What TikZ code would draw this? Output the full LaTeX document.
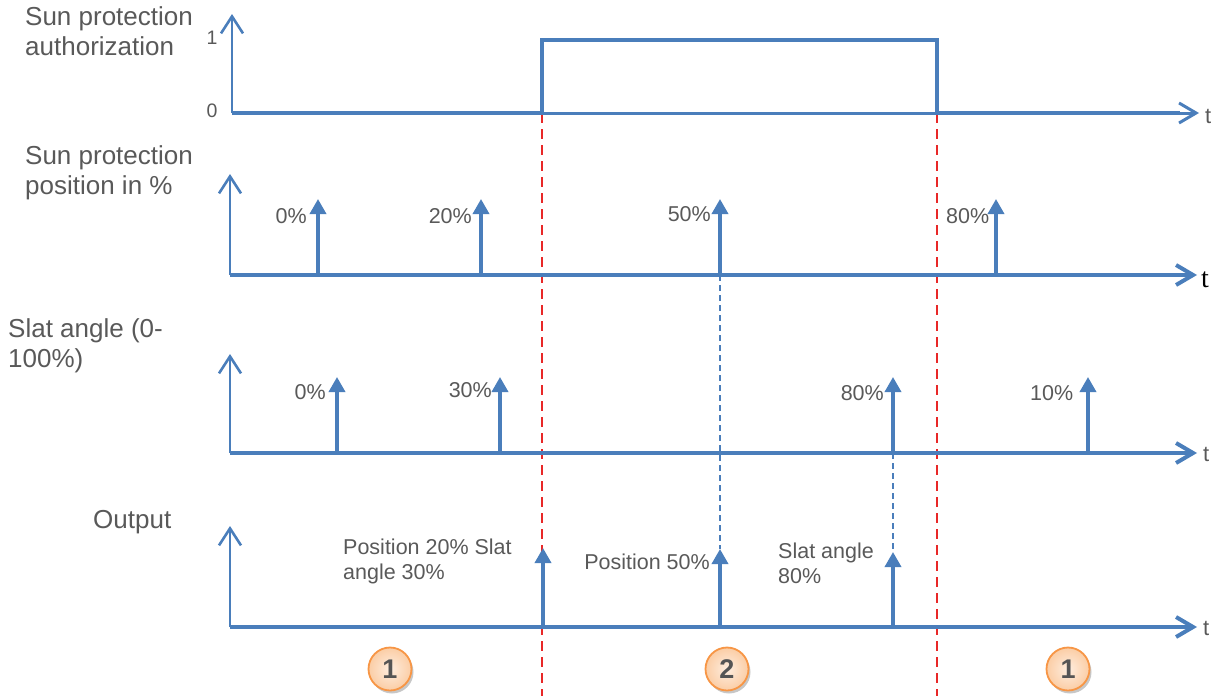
\documentclass[tikz,border=0pt]{standalone}
\usepackage{fontspec}
\setmainfont{Liberation Sans}
\newfontfamily\serifT{Liberation Serif}
\usetikzlibrary{arrows.meta,shadows}
\definecolor{blu}{RGB}{74,126,187}
\definecolor{txt}{RGB}{89,89,89}
\definecolor{redd}{RGB}{232,40,40}
\definecolor{orab}{RGB}{247,150,70}
\definecolor{oraf}{RGB}{251,205,165}
\definecolor{numc}{RGB}{85,85,85}
\begin{document}
\begin{tikzpicture}[x=1pt,y=-1pt,
  yax/.style={draw=blu,line width=2.6pt,-{Straight Barb[length=17pt,width=22pt]}},
  xax/.style={draw=blu,line width=3pt,-{Straight Barb[length=17pt,width=20pt]}},
  sig/.style={draw=blu,line width=3.5pt,line join=miter},
  imp/.style={draw=blu,line width=3.5pt,-{Triangle[length=15pt,width=16pt]}},
  guide/.style={draw=blu,line width=1.3pt,dash pattern=on 6pt off 4pt},
  sep/.style={draw=redd,line width=1.6pt,dash pattern=on 10pt off 6pt},
  lab/.style={text=txt,font=\fontsize{21.5}{24.5}\selectfont,inner sep=0pt,align=left},
  ttl/.style={text=txt,font=\fontsize{26}{30}\selectfont,inner sep=0pt,align=left},
  tl/.style={text=txt,font=\fontsize{22}{24}\selectfont,inner sep=0pt},
  vl/.style={text=txt,font=\fontsize{19.5}{20}\selectfont,inner sep=0pt},
  badge/.style={circle,draw=orab,line width=1.8pt,minimum size=43pt,inner sep=0pt,
    inner color=oraf!35!white,outer color=oraf,
    drop shadow={shadow xshift=2pt,shadow yshift=-3pt,fill=black!40,opacity=.55},
    text=numc,font=\fontsize{27}{27}\selectfont\bfseries}
]
\useasboundingbox (0,0) rectangle (1224,696);

% separators
\coordinate (s1t) at (542,113); \coordinate (s1b) at (542,696);
\coordinate (s2t) at (937,113); \coordinate (s2b) at (937,696);
\draw[sep] (s1t) -- (s1b);
\draw[sep] (s2t) -- (s2b);

% ---------- chart 1
\node[ttl,anchor=base west] (t1) at (25,55) {Sun protection\\authorization};
\coordinate (o1) at (232,113);
\coordinate (y1) at (232,14);
\coordinate (x1) at (1199,113);
\draw[yax] (o1) -- (y1);
\draw[xax] (o1) -- (x1);
\node[tl,anchor=base west] (tx1) at (1205,123) {t};
\node[vl,anchor=base] (v1) at (212,44) {1};
\node[vl,anchor=base] (v0) at (212,117) {0};
\coordinate (r1) at (542,113); \coordinate (r2) at (542,40);
\coordinate (f1) at (937,40); \coordinate (f2) at (937,113);
\coordinate (e1) at (1180,113);
\draw[sig] (o1) -- (r1) -- (r2) -- (f1) -- (f2) -- (e1);

% ---------- chart 2
\node[ttl,anchor=base west] (t2) at (25,194) {Sun protection\\position in \%};
\coordinate (o2) at (230,275);
\coordinate (y2) at (230,174);
\coordinate (x2) at (1197,275);
\draw[yax] (o2) -- (y2);
\draw[xax,line width=4pt] (o2) -- (x2);
\node[anchor=base west,inner sep=0pt,font=\serifT\fontsize{28}{28}\selectfont] (tx2) at (1201,287) {t};
\foreach \n/\x in {a/318, b/481, c/720, d/996} {
  \coordinate (p2\n) at (\x,275);
  \coordinate (q2\n) at (\x,199);
  \draw[imp] (p2\n) -- (q2\n);
}
\node[lab,anchor=base east] (l2a) at (307,223) {0\%};
\node[lab,anchor=base east] (l2b) at (472,223) {20\%};
\node[lab,anchor=base east] (l2c) at (711,221) {50\%};
\node[lab,anchor=base west] (l2d) at (946,223) {80\%};

% ---------- chart 3
\node[ttl,anchor=base west] (t3) at (8,367) {Slat angle (0-\\100\%)};
\coordinate (o3) at (230,453);
\coordinate (y3) at (230,354);
\coordinate (x3) at (1197,453);
\draw[yax] (o3) -- (y3);
\draw[xax,line width=4pt] (o3) -- (x3);
\node[tl,anchor=base west] (tx3) at (1203,461) {t};
\foreach \n/\x in {a/337, b/500, c/893, d/1088} {
  \coordinate (p3\n) at (\x,453);
  \coordinate (q3\n) at (\x,377);
  \draw[imp] (p3\n) -- (q3\n);
}
\node[lab,anchor=base east] (l3a) at (326,399) {0\%};
\node[lab,anchor=base east] (l3b) at (492,397) {30\%};
\node[lab,anchor=base east] (l3c) at (884,400) {80\%};
\node[lab,anchor=base west] (l3d) at (1030,400) {10\%};

% ---------- chart 4
\node[ttl,anchor=base west] (t4) at (93,528) {Output};
\coordinate (o4) at (230,627);
\coordinate (y4) at (230,526);
\coordinate (x4) at (1197,627);
\draw[yax] (o4) -- (y4);
\draw[xax,line width=4pt] (o4) -- (x4);
\node[tl,anchor=base west] (tx4) at (1203,635) {t};
\coordinate (p4a) at (543,627); \coordinate (q4a) at (543,548);
\coordinate (p4b) at (720,627); \coordinate (q4b) at (720,549);
\coordinate (p4c) at (893,627); \coordinate (q4c) at (893,552);
\draw[guide] (p2c) -- (q4b);
\draw[guide] (p3c) -- (q4c);
\draw[imp] (p4a) -- (q4a);
\draw[imp] (p4b) -- (q4b);
\draw[imp] (p4c) -- (q4c);
\node[lab,anchor=base west] (l4a) at (343,579) {Position 20\% Slat\\angle 30\%};
\node[lab,anchor=base east] (l4b) at (710,569) {Position 50\%};
\node[lab,anchor=base west] (l4c) at (778,583) {Slat angle\\80\%};

% badges
\node[badge] (b1) at (390,669) {1};
\node[badge] (b2) at (727,669) {2};
\node[badge] (b3) at (1068,669) {1};
\end{tikzpicture}
\end{document}
